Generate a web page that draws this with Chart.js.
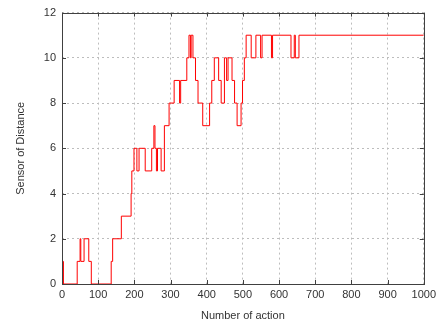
<!DOCTYPE html>
<html>
<head>
<meta charset="utf-8">
<script src="https://cdn.jsdelivr.net/npm/chart.js@4.4.1/dist/chart.umd.min.js"></script>
<style>
  html, body { margin: 0; padding: 0; background: #fff; }
  #wrap { width: 440px; height: 331px; }
</style>
</head>
<body>
<div id="wrap"><canvas id="chart" width="440" height="331"></canvas></div>
<script>
// step points: value holds from this x until the next one
const actions = [0, 4, 42, 50, 52, 61, 74, 81, 136, 140, 164, 191, 193, 199, 207, 213, 230, 248,
    254, 257, 261, 264, 274, 283, 296, 310, 325, 328, 345, 351, 355, 357, 362, 369, 376, 389,
    408, 414, 421, 433, 440, 449, 455, 459, 470, 477, 484, 495, 499, 504, 509, 523, 536, 549,
    553, 579, 582, 633, 642, 645, 655, 1000];
const distance = [1, 0, 1, 2, 1, 2, 1, 0, 1, 2, 3, 4, 5, 6, 5, 6, 5, 6,
    7, 6, 5, 6, 5, 7, 8, 9, 8, 9, 10, 11, 10, 11, 10, 9, 8, 7,
    8, 9, 10, 9, 8, 10, 9, 10, 9, 8, 7, 8, 9, 10, 11, 10, 11, 10,
    11, 10, 11, 10, 11, 10, 11, 11];
const xTicks = [0, 100, 200, 300, 400, 500, 600, 700, 800, 900, 1000];
const yTicks = [0, 2, 4, 6, 8, 10, 12];

const points = actions.map((a, i) => ({ x: a, y: distance[i] }));

// box around the plot + inward tick marks (gnuplot look)
const frame = {
    id: "frame",
    afterDraw(chart) {
        const { ctx, chartArea: a, scales } = chart;
        ctx.save();
        ctx.strokeStyle = "#404040";
        ctx.lineWidth = 1;
        ctx.strokeRect(Math.round(a.left) + 0.5, Math.round(a.top) + 0.5,
            Math.round(a.right - a.left), Math.round(a.bottom - a.top));
        ctx.beginPath();
        xTicks.forEach(v => {
            const px = Math.round(scales.x.getPixelForValue(v)) + 0.5;
            ctx.moveTo(px, a.bottom); ctx.lineTo(px, a.bottom - 4);
            ctx.moveTo(px, a.top); ctx.lineTo(px, a.top + 4);
        });
        yTicks.forEach(v => {
            const py = Math.round(scales.y.getPixelForValue(v)) + 0.5;
            ctx.moveTo(a.left, py); ctx.lineTo(a.left + 4, py);
            ctx.moveTo(a.right, py); ctx.lineTo(a.right - 4, py);
        });
        ctx.stroke();
        ctx.restore();
    }
};

const font = { family: "'Liberation Sans', Arial, sans-serif", size: 11 };

new Chart(document.getElementById("chart").getContext("2d"), {
    type: "line",
    data: {
        datasets: [{
            data: points,
            borderColor: "#ff0000",
            borderWidth: 1,
            pointRadius: 0,
            stepped: true,
            fill: false
        }]
    },
    options: {
        responsive: false,
        animation: false,
        layout: { padding: { top: 11, right: 15, left: 0, bottom: 0 } },
        plugins: { legend: { display: false }, tooltip: { enabled: false } },
        scales: {
            x: {
                type: "linear",
                min: 0,
                max: 1000,
                afterBuildTicks: s => { s.ticks = xTicks.map(v => ({ value: v })); },
                afterFit: s => { s.height = 47; },
                ticks: { color: "#333", font: font, padding: 4, maxRotation: 0, callback: v => String(v) },
                grid: { color: "#bdbdbd", drawTicks: false },
                border: { display: false, dash: [2, 3] },
                title: { display: true, text: "Number of action", color: "#333", font: font, padding: { top: 6, bottom: 8 } }
            },
            y: {
                min: 0,
                max: 12,
                afterBuildTicks: s => { s.ticks = yTicks.map(v => ({ value: v })); },
                afterFit: s => { s.width = 62; },
                ticks: { color: "#333", font: font, padding: 6 },
                grid: { color: "#bdbdbd", drawTicks: false },
                border: { display: false, dash: [2, 3] },
                title: { display: true, text: "Sensor of Distance", color: "#333", font: font, padding: { top: 14, bottom: 10 } }
            }
        }
    },
    plugins: [frame]
});
</script>
</body>
</html>
